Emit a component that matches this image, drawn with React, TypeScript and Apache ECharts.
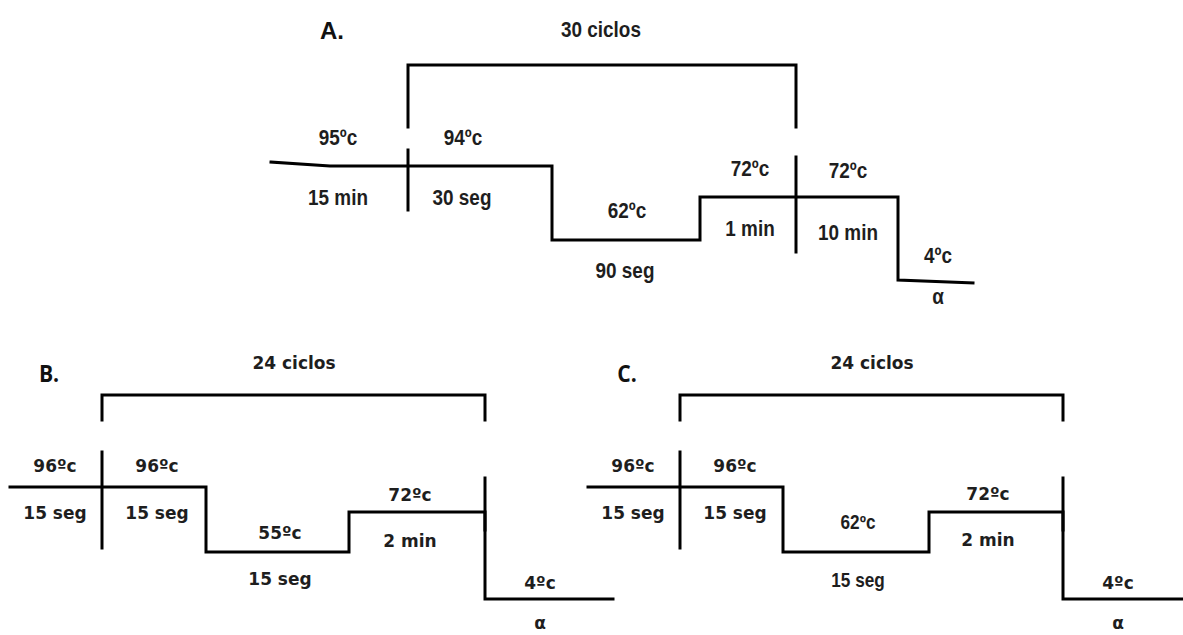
import React, { useEffect, useRef } from "react";
import * as echarts from "echarts";

const W = 1183;
const H = 635;

// ---------- Panel A (30 ciclos) ----------
const profileA: number[][] = [[271, 162], [330, 166], [552, 166], [552, 240], [700, 240], [700, 197], [898, 197], [898, 280], [973, 283]];
const bracketA: number[][] = [[408, 127], [408, 65], [796, 65], [796, 127]];
const sepA1: number[][] = [[408, 150], [408, 210]];
const sepA2: number[][] = [[796, 157], [796, 252]];
const labelsA = ["30 ciclos", "95ºc", "94ºc", "15 min", "30 seg", "62ºc", "90 seg", "72ºc", "72ºc", "1 min", "10 min", "4ºc", "α"];
const labelsA_x = [601, 338, 463, 338, 462, 627, 625, 750, 848, 750, 848, 938, 938];
const labelsA_y = [29, 137, 137, 197, 197, 210, 270, 168, 170, 228, 232, 255, 296];

// ---------- Panel B (24 ciclos) ----------
const profileB: number[][] = [[10, 487], [206, 487], [206, 552], [349, 552], [349, 512], [485, 512], [485, 599], [613, 599]];
const bracketB: number[][] = [[102, 420], [102, 395], [485, 395], [485, 420]];
const sepB1: number[][] = [[102, 452], [102, 548]];
const sepB2: number[][] = [[485, 478], [485, 530]];
const labelsB = ["24 ciclos", "96ºc", "96ºc", "15 seg", "15 seg", "55ºc", "15 seg", "72ºc", "2 min", "4ºc", "α"];
const labelsB_x = [294, 55, 157, 55, 157, 280, 280, 410, 410, 540, 540];
const labelsB_y = [363, 466, 466, 513, 513, 533, 579, 495, 541, 583, 623];

// ---------- Panel C (24 ciclos) ----------
const profileC: number[][] = [[588, 487], [783, 487], [783, 552], [929, 552], [929, 512], [1063, 512], [1063, 599], [1183, 599]];
const bracketC: number[][] = [[680, 420], [680, 395], [1063, 395], [1063, 420]];
const sepC1: number[][] = [[680, 452], [680, 548]];
const sepC2: number[][] = [[1063, 478], [1063, 530]];
const labelsC = ["24 ciclos", "96ºc", "96ºc", "15 seg", "15 seg", "72ºc", "2 min", "4ºc", "α"];
const labelsC_x = [872, 633, 735, 633, 735, 988, 988, 1118, 1118];
const labelsC_y = [363, 466, 466, 513, 513, 494, 540, 583, 623];
// pasted-in annealing labels of panel C (narrow type)
const labelsC2 = ["62ºc", "15 seg"];
const labelsC2_x = [858, 858];
const labelsC2_y = [522, 580];

// panel titles
const titlesA = ["A."];
const titlesA_x = [332];
const titlesA_y = [30];
const titlesBC = ["B.", "C."];
const titlesBC_x = [49, 627];
const titlesBC_y = [373, 373];

const SANS = '"Liberation Sans", Arial, sans-serif';
const WIDE = '"DejaVu Sans", Verdana, sans-serif';

function lineSeries(data: number[][]) {
  return {
    type: "line",
    data,
    symbol: "none",
    silent: true,
    lineStyle: { color: "#000", width: 3, join: "miter", cap: "square" },
    z: 2,
  };
}

function labelSeries(texts: string[], xs: number[], ys: number[], font: any, scaleX: number, fill = "#1e1e1e") {
  return {
    type: "custom",
    silent: true,
    z: 3,
    data: texts.map((t, i) => [xs[i], ys[i]]),
    renderItem: (params: any, api: any) => {
      const p = api.coord([api.value(0), api.value(1)]);
      return {
        type: "text",
        x: p[0],
        y: p[1],
        scaleX,
        style: {
          text: texts[params.dataIndex],
          fill,
          align: "center",
          verticalAlign: "middle",
          ...font,
        },
      };
    },
  };
}

export default function App() {
  const ref = useRef<HTMLDivElement>(null);
  useEffect(() => {
    if (!ref.current) return;
    const chart = echarts.init(ref.current, null, { renderer: "svg" });
    chart.setOption({
      animation: false,
      backgroundColor: "#fff",
      grid: { left: 0, top: 0, right: 0, bottom: 0 },
      xAxis: { type: "value", min: 0, max: W, show: false },
      yAxis: { type: "value", min: 0, max: H, inverse: true, show: false },
      series: [
        lineSeries(profileA), lineSeries(bracketA), lineSeries(sepA1), lineSeries(sepA2),
        lineSeries(profileB), lineSeries(bracketB), lineSeries(sepB1), lineSeries(sepB2),
        lineSeries(profileC), lineSeries(bracketC), lineSeries(sepC1), lineSeries(sepC2),
        labelSeries(labelsA, labelsA_x, labelsA_y, { fontFamily: SANS, fontSize: 22, fontWeight: "bold" }, 0.86),
        labelSeries(labelsB, labelsB_x, labelsB_y, { fontFamily: WIDE, fontSize: 17, fontWeight: "bold" }, 1),
        labelSeries(labelsC, labelsC_x, labelsC_y, { fontFamily: WIDE, fontSize: 17, fontWeight: "bold" }, 1),
        labelSeries(labelsC2, labelsC2_x, labelsC2_y, { fontFamily: SANS, fontSize: 20, fontWeight: "bold" }, 0.86),
        labelSeries(titlesA, titlesA_x, titlesA_y, { fontFamily: SANS, fontSize: 24, fontWeight: "bold" }, 1, "#111"),
        labelSeries(titlesBC, titlesBC_x, titlesBC_y, { fontFamily: '"Open Sans", "Noto Sans", sans-serif', fontSize: 23, fontWeight: "bold" }, 0.92, "#111"),
      ],
    });
    return () => chart.dispose();
  }, []);
  return <div ref={ref} style={{ position: "fixed", left: 0, top: 0, width: W, height: H }} />;
}
